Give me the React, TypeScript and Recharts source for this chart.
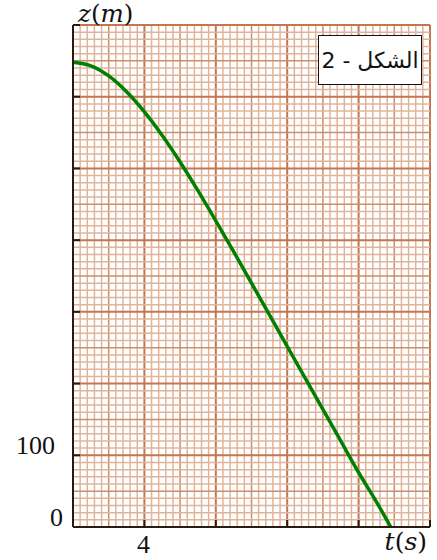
import React from "react";
import { LineChart, Line, XAxis, YAxis, ReferenceLine, Label } from "recharts";

// time (s) and altitude z (m)
const timeS = [0, 1, 2, 3, 4, 5, 6, 7, 8, 9, 10, 11, 12, 13, 14, 15, 16, 17, 17.8];
const altitudeM = [648, 643, 629, 607, 579, 546, 509, 469, 427, 384, 340, 296, 252, 208, 164, 120, 76, 35, 0];

const xTicks = [0, 4, 8, 12, 16, 20];
const yTicks = [0, 100, 200, 300, 400, 500, 600, 700];
const xTickLabels: Record<number, string> = { 4: "4" };
const yTickLabels: Record<number, string> = { 0: "0", 100: "100" };

const X_MAX = 20;
const Y_MAX = 700;
const X_STEP = 0.4; // 1/10 of a major division
const Y_STEP = 10;

const data = timeS.map((t, i) => ({ t, z: altitudeM[i] }));

type Level = "minor" | "medium" | "major";
function gridValues(max: number, step: number) {
  const out: { v: number; level: Level }[] = [];
  const n = Math.round(max / step);
  for (let k = 0; k <= n; k++) {
    const level: Level = k % 10 === 0 ? "major" : k % 5 === 0 ? "medium" : "minor";
    out.push({ v: +(k * step).toFixed(4), level });
  }
  return out;
}
const xGrid = gridValues(X_MAX, X_STEP);
const yGrid = gridValues(Y_MAX, Y_STEP);

const gridStyle: Record<Level, { stroke: string; w: number }> = {
  minor: { stroke: "#e0b49b", w: 1.5 },
  medium: { stroke: "#cd8d69", w: 1.5 },
  major: { stroke: "#c47650", w: 2 },
};

const AXIS = "#2a1a10";
const NUM_FONT = "'Liberation Serif', 'Times New Roman', serif";
const MATH_FONT = "'DejaVu Serif', serif";

const YTick = (props: any) => {
  const { x, y, payload } = props;
  const lbl = yTickLabels[payload.value];
  const dx = payload.value === 0 ? 10 : 18;
  return (
    <g>
      <line x1={x} x2={x + 7} y1={y} y2={y} stroke={AXIS} strokeWidth={2} />
      {lbl !== undefined && (
        <text x={x - dx} y={y - 1} textAnchor="end" fontFamily={NUM_FONT} fontSize={26} fill="#111">
          {lbl}
        </text>
      )}
    </g>
  );
};

const XTick = (props: any) => {
  const { x, y, payload } = props;
  const lbl = xTickLabels[payload.value];
  if (payload.value === 0) return <g />;
  return (
    <g>
      <line x1={x} x2={x} y1={y} y2={y - 7} stroke={AXIS} strokeWidth={2} />
      {lbl !== undefined && (
        <text x={x - 1} y={y + 26} textAnchor="middle" fontFamily={NUM_FONT} fontSize={26} fill="#111">
          {lbl}
        </text>
      )}
    </g>
  );
};

const ZTitle = (props: any) => {
  const vb = props.viewBox || {};
  return (
    <text x={vb.x + vb.width + 5} y={vb.y - 3} fontFamily={MATH_FONT} fontSize={24.5} fill="#111">
      <tspan fontStyle="italic">z</tspan>
      <tspan>(</tspan>
      <tspan fontStyle="italic">m</tspan>
      <tspan>)</tspan>
    </text>
  );
};

const TTitle = (props: any) => {
  const vb = props.viewBox || {};
  return (
    <text x={vb.x + vb.width - 3} y={vb.y + 23} textAnchor="end" fontFamily={MATH_FONT} fontSize={25} fill="#111">
      <tspan fontStyle="italic">t</tspan>
      <tspan>(</tspan>
      <tspan fontStyle="italic">s</tspan>
      <tspan>)</tspan>
    </text>
  );
};

export default function App() {
  const order: Level[] = ["minor", "medium", "major"];
  return (
    <div style={{ position: "absolute", left: 0, top: 0, width: 437, height: 560, background: "#fff" }}>
      <LineChart width={437} height={560} data={data} margin={{ top: 25, right: 7, left: 0, bottom: 0 }}>
        {order.map((lv) =>
          xGrid
            .filter((g) => g.level === lv)
            .map((g) => (
              <ReferenceLine
                key={`x-${lv}-${g.v}`}
                x={g.v}
                stroke={gridStyle[lv].stroke}
                strokeWidth={gridStyle[lv].w}
              />
            ))
        )}
        {order.map((lv) =>
          yGrid
            .filter((g) => g.level === lv)
            .map((g) => (
              <ReferenceLine
                key={`y-${lv}-${g.v}`}
                y={g.v}
                stroke={gridStyle[lv].stroke}
                strokeWidth={gridStyle[lv].w}
              />
            ))
        )}
        <XAxis
          dataKey="t"
          type="number"
          domain={[0, X_MAX]}
          ticks={xTicks}
          interval={0}
          height={33}
          tickSize={0}
          tickMargin={0}
          tickLine={false}
          tick={<XTick />}
          axisLine={{ stroke: AXIS, strokeWidth: 2 }}
          label={<Label content={<TTitle />} />}
        />
        <YAxis
          type="number"
          domain={[0, Y_MAX]}
          ticks={yTicks}
          interval={0}
          width={73}
          tickSize={0}
          tickMargin={0}
          tickLine={false}
          tick={<YTick />}
          axisLine={{ stroke: AXIS, strokeWidth: 2 }}
          label={<Label content={<ZTitle />} />}
        />
        <Line
          type="monotone"
          dataKey="z"
          stroke="#008000"
          strokeWidth={3.5}
          dot={false}
          isAnimationActive={false}
        />
      </LineChart>
      <div
        style={{
          position: "absolute",
          left: 318,
          top: 35,
          width: 104,
          height: 50,
          boxSizing: "border-box",
          border: "1.5px solid #111",
          background: "#fff",
          display: "flex",
          alignItems: "center",
          justifyContent: "center",
          fontFamily: "'DejaVu Sans', sans-serif",
          fontSize: 22,
          direction: "rtl",
          color: "#111",
        }}
      >
        الشكل - 2
      </div>
    </div>
  );
}
